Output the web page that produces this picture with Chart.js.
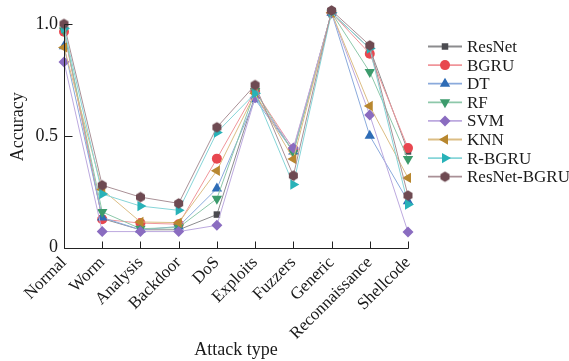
<!DOCTYPE html>
<html>
<head>
<meta charset="utf-8">
<script src="https://cdn.jsdelivr.net/npm/chart.js@4.4.1/dist/chart.umd.min.js"></script>
<style>
  html, body { margin: 0; padding: 0; background: #ffffff; }
  #wrap { width: 569px; height: 361px; position: relative; }
</style>
</head>
<body>
<div id="wrap"><canvas id="c"></canvas></div>
<script>
// Attack categories on the x axis
const attackTypes = ['Normal', 'Worm', 'Analysis', 'Backdoor', 'DoS', 'Exploits',
  'Fuzzers', 'Generic', 'Reconnaissance', 'Shellcode'];

// Detection accuracy per model and attack type
const resnet     = [0.97, 0.13, 0.08, 0.08, 0.148, 0.68, 0.43, 1.05, 0.89, 0.43];
const bgru       = [0.965, 0.127, 0.11, 0.105, 0.398, 0.70, 0.44, 1.05, 0.867, 0.445];
const dt         = [0.90, 0.135, 0.08, 0.095, 0.264, 0.663, 0.43, 1.05, 0.50, 0.208];
const rf         = [0.97, 0.16, 0.085, 0.09, 0.219, 0.70, 0.424, 1.05, 0.785, 0.396];
const svm        = [0.83, 0.072, 0.072, 0.072, 0.10, 0.67, 0.445, 1.05, 0.593, 0.07];
const knn        = [0.895, 0.26, 0.115, 0.112, 0.344, 0.69, 0.396, 1.05, 0.633, 0.312];
const rBgru      = [0.98, 0.24, 0.186, 0.167, 0.515, 0.69, 0.282, 1.05, 0.89, 0.193];
const resnetBgru = [1.0, 0.279, 0.226, 0.198, 0.538, 0.727, 0.322, 1.06, 0.904, 0.233];

// Y tick values and their printed labels
const yTickValues = [0, 0.5, 1.0];
const yTickLabels = ['0', '0.5', '1.0'];
const yAxisTop = 1.0;   // the drawn axis line stops here
const yRangeMax = 1.08; // room above for values over 1.0

const SERIF = '"Liberation Serif", "DejaVu Serif", serif';

// Hexagon marker for ResNet-BGRU
function hexMarker(r, fill) {
  const s = Math.ceil(r * 2 + 2);
  const cv = document.createElement('canvas');
  cv.width = s; cv.height = s;
  const g = cv.getContext('2d');
  g.fillStyle = fill;
  g.beginPath();
  for (let i = 0; i < 6; i++) {
    const a = Math.PI / 6 + i * Math.PI / 3;
    const x = s / 2 + r * Math.cos(a), y = s / 2 + r * Math.sin(a);
    if (i === 0) g.moveTo(x, y); else g.lineTo(x, y);
  }
  g.closePath();
  g.fill();
  return cv;
}
const hexStyle = hexMarker(5.2, '#6e4a52');

const seriesDefs = [
  { label: 'ResNet', data: resnet, line: '#8c8c8e', mark: '#4b4b50', style: 'rect', rot: 0, r: 4.6 },
  { label: 'BGRU', data: bgru, line: '#f0959a', mark: '#e8474f', style: 'circle', rot: 0, r: 5 },
  { label: 'DT', data: dt, line: '#8aaadc', mark: '#2e6cb6', style: 'triangle', rot: 0, r: 6 },
  { label: 'RF', data: rf, line: '#8dc8aa', mark: '#3c9b6c', style: 'triangle', rot: 180, r: 6 },
  { label: 'SVM', data: svm, line: '#bca9df', mark: '#8a6cc0', style: 'rectRot', rot: 0, r: 5.5 },
  { label: 'KNN', data: knn, line: '#dcbd84', mark: '#b8872f', style: 'triangle', rot: -90, r: 6 },
  { label: 'R-BGRU', data: rBgru, line: '#86d5d8', mark: '#28b2b8', style: 'triangle', rot: 90, r: 6 },
  { label: 'ResNet-BGRU', data: resnetBgru, line: '#a99096', mark: '#6e4a52', style: hexStyle, rot: 0, r: 5.2 }
];

const datasets = seriesDefs.map((s, i) => ({
  label: s.label,
  data: s.data,
  borderColor: s.line,
  backgroundColor: s.mark,
  borderWidth: 1,
  pointStyle: s.style,
  pointRotation: s.rot,
  pointRadius: s.r,
  pointBorderWidth: 0,
  pointBackgroundColor: s.mark,
  pointBorderColor: s.mark,
  tension: 0,
  clip: false,
  order: seriesDefs.length - 1 - i
}));

// Axis lines (y only up to 1.0) and short tick marks pointing into the plot
const axesAndTicks = {
  id: 'axesAndTicks',
  afterDraw(chart) {
    const { ctx, chartArea, scales } = chart;
    const left = Math.round(chartArea.left) + 0.5;
    const bottom = Math.round(chartArea.bottom) + 0.5;
    const yTop = Math.round(scales.y.getPixelForValue(yAxisTop)) + 0.5;
    ctx.save();
    ctx.strokeStyle = '#222';
    ctx.lineWidth = 1;
    ctx.beginPath();
    ctx.moveTo(left, yTop);
    ctx.lineTo(left, bottom);
    ctx.lineTo(Math.round(chartArea.right) + 0.5, bottom);
    scales.x.ticks.forEach((t, i) => {
      const x = Math.round(scales.x.getPixelForTick(i)) + 0.5;
      ctx.moveTo(x, bottom);
      ctx.lineTo(x, bottom - 7);
    });
    scales.y.ticks.forEach((t, i) => {
      const y = Math.round(scales.y.getPixelForTick(i)) + 0.5;
      ctx.moveTo(left, y);
      ctx.lineTo(left + 8, y);
    });
    ctx.stroke();
    ctx.restore();
  }
};

// Legend with line-through-marker samples on the right
const sideLegend = {
  id: 'sideLegend',
  afterDraw(chart) {
    const { ctx } = chart;
    const x0 = 428, x1 = 462, xm = 445, xt = 467, y0 = 46.5, dy = 18.6;
    ctx.save();
    chart.data.datasets.forEach((ds, i) => {
      const y = y0 + i * dy;
      ctx.strokeStyle = ds.borderColor;
      ctx.lineWidth = 1.8;
      ctx.beginPath();
      ctx.moveTo(x0, y); ctx.lineTo(x1, y);
      ctx.stroke();
      ctx.fillStyle = ds.pointBackgroundColor;
      ctx.strokeStyle = ds.pointBorderColor;
      Chart.helpers.drawPoint(ctx, {
        pointStyle: ds.pointStyle, rotation: ds.pointRotation,
        radius: ds.pointRadius, borderWidth: 0
      }, xm, y);
      ctx.fillStyle = '#1a1a1a';
      ctx.font = '17px ' + SERIF;
      ctx.textBaseline = 'middle';
      ctx.textAlign = 'left';
      ctx.fillText(ds.label, xt, y + 1);
    });
    ctx.restore();
  }
};

new Chart(document.getElementById('c'), {
  type: 'line',
  data: { labels: attackTypes, datasets },
  options: {
    responsive: true,
    maintainAspectRatio: false,
    animation: false,
    layout: { padding: { top: 3.6, right: 161, left: 0, bottom: 0 } },
    plugins: {
      legend: { display: false },
      tooltip: { enabled: false }
    },
    scales: {
      x: {
        offset: false,
        afterFit(scale) {
          scale.height = 113.3;
          scale.paddingLeft = 0;
          scale.paddingRight = 0;
        },
        grid: { display: false, drawTicks: false },
        border: { display: false },
        ticks: {
          color: '#1a1a1a',
          font: { family: SERIF, size: 17 },
          minRotation: 45, maxRotation: 45,
          autoSkip: false,
          padding: 5
        },
        title: {
          display: true, text: 'Attack type', color: '#1a1a1a',
          font: { family: SERIF, size: 18 },
          padding: { top: 0, bottom: 0 }
        }
      },
      y: {
        min: 0, max: yRangeMax,
        afterFit(scale) {
          scale.width = 64;
          scale.paddingTop = 0;
          scale.paddingBottom = 0;
        },
        afterBuildTicks(scale) { scale.ticks = yTickValues.map(v => ({ value: v })); },
        grid: { display: false, drawTicks: false },
        border: { display: false },
        ticks: {
          color: '#1a1a1a',
          font: { family: SERIF, size: 18 },
          padding: 6,
          callback: (v) => yTickLabels[yTickValues.indexOf(v)]
        },
        title: {
          display: true, text: 'Accuracy', color: '#1a1a1a',
          font: { family: SERIF, size: 18 },
          padding: { top: 7, bottom: 0 }
        }
      }
    }
  },
  plugins: [axesAndTicks, sideLegend]
});
</script>
</body>
</html>
